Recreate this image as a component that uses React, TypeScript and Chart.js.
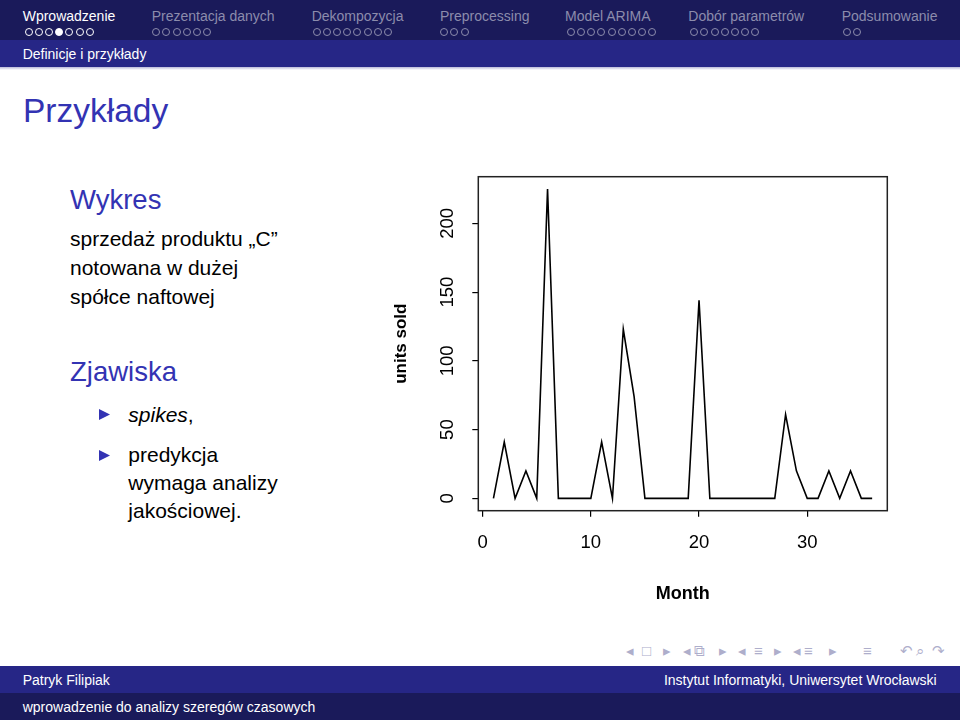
import React, { useEffect, useRef } from "react";
import { Chart, registerables } from "chart.js";

Chart.register(...registerables);

const months = [1, 2, 3, 4, 5, 6, 7, 8, 9, 10, 11, 12, 13, 14, 15, 16, 17, 18, 19, 20, 21, 22, 23, 24, 25, 26, 27, 28, 29, 30, 31, 32, 33, 34, 35, 36];
const unitsSold = [0, 41, 0, 20, 0, 225, 0, 0, 0, 0, 41, 0, 123, 74, 0, 0, 0, 0, 0, 144, 0, 0, 0, 0, 0, 0, 0, 61, 20, 0, 0, 20, 0, 20, 0, 0];
const xTickValues = [0, 10, 20, 30];
const yTickValues = [0, 50, 100, 150, 200];

const sections = [
  { name: "Wprowadzenie", dots: 7, current: 3, x: 22.7, dx: 24.5 },
  { name: "Prezentacja danych", dots: 6, current: -1, x: 151.7, dx: 152.2 },
  { name: "Dekompozycja", dots: 8, current: -1, x: 311.7, dx: 312.5 },
  { name: "Preprocessing", dots: 3, current: -1, x: 440, dx: 440.2 },
  { name: "Model ARIMA", dots: 9, current: -1, x: 565, dx: 566.8 },
  { name: "Dobór parametrów", dots: 7, current: -1, x: 688.3, dx: 690.2 },
  { name: "Podsumowanie", dots: 2, current: -1, x: 841.7, dx: 842.8 },
];

const FONT = '"Liberation Sans", Arial, Helvetica, sans-serif';
const BLUE = "#3333B3";
const DARK = "#1a1a5a";
const MID = "#262686";
const GRAY = "#8c8cac";

function ChartBox() {
  const ref = useRef<HTMLCanvasElement | null>(null);
  useEffect(() => {
    const canvas = ref.current;
    if (!canvas) return;
    const boxPlugin = {
      id: "rbox",
      afterDraw(chart: any) {
        const { ctx, chartArea } = chart;
        ctx.save();
        ctx.strokeStyle = "#222";
        ctx.lineWidth = 1.5;
        ctx.strokeRect(chartArea.left, chartArea.top, chartArea.right - chartArea.left, chartArea.bottom - chartArea.top);
        const ys = chart.scales.y;
        ctx.fillStyle = "#000";
        ctx.font = `18.5px ${FONT}`;
        ctx.textAlign = "center";
        ctx.textBaseline = "alphabetic";
        yTickValues.forEach((v) => {
          const py = ys.getPixelForValue(v);
          ctx.save();
          ctx.translate(82.5, py);
          ctx.rotate(-Math.PI / 2);
          ctx.fillText(String(v), 0, 0);
          ctx.restore();
        });
        ctx.restore();
      },
    };
    const chart = new Chart(canvas, {
      type: "line",
      data: {
        datasets: [
          {
            data: months.map((m, i) => ({ x: m, y: unitsSold[i] })),
            borderColor: "#000",
            borderWidth: 1.6,
            pointRadius: 0,
            tension: 0,
            fill: false,
          },
        ],
      },
      options: {
        animation: false,
        responsive: false,
        layout: { padding: { left: 0, top: 16.7, right: 22.7, bottom: 0 } },
        plugins: { legend: { display: false }, tooltip: { enabled: false } },
        scales: {
          x: {
            type: "linear",
            min: -0.4,
            max: 37.4,
            afterBuildTicks: (s: any) => {
              s.ticks = xTickValues.map((v) => ({ value: v }));
            },
            afterFit: (s: any) => {
              s.height = 109.3;
            },
            grid: { drawOnChartArea: false, drawTicks: true, tickLength: 6, color: "#000", lineWidth: 1.2 },
            border: { display: false },
            ticks: { font: { family: FONT, size: 18.5 }, color: "#000", padding: 15.5, maxRotation: 0, autoSkip: false },
            title: {
              display: true,
              text: "Month",
              color: "#000",
              font: { family: FONT, size: 18, weight: "bold" },
              padding: { top: 0, bottom: 15.5 },
            },
          },
          y: {
            type: "linear",
            min: -9,
            max: 234,
            afterBuildTicks: (s: any) => {
              s.ticks = yTickValues.map((v) => ({ value: v }));
            },
            afterFit: (s: any) => {
              s.width = 108.3;
            },
            grid: { drawOnChartArea: false, drawTicks: true, tickLength: 6, color: "#000", lineWidth: 1.2 },
            border: { display: false },
            ticks: { display: false },
            title: {
              display: true,
              text: "units sold",
              color: "#000",
              font: { family: FONT, size: 17, weight: "bold" },
              padding: { top: 21, bottom: 0 },
            },
          },
        },
      },
      plugins: [boxPlugin],
    } as any);
    return () => chart.destroy();
  }, []);
  return (
    <div style={{ position: "absolute", left: 370, top: 160, width: 540, height: 460 }}>
      <canvas ref={ref} width={540} height={460} style={{ width: 540, height: 460 }} />
    </div>
  );
}

const abs = (left: number, top: number, size: number, extra: any = {}) => ({
  position: "absolute" as const,
  left,
  top,
  fontSize: size,
  lineHeight: `${size}px`,
  whiteSpace: "nowrap" as const,
  ...extra,
});

function Triangle({ x, y }: { x: number; y: number }) {
  return (
    <svg style={{ position: "absolute", left: x, top: y - 5.5 }} width={11} height={11}>
      <polygon points="0,0 11,5.5 0,11" fill={BLUE} />
    </svg>
  );
}

const navItems = [
  { t: "◂", x: 626 }, { t: "□", x: 642 }, { t: "▸", x: 663 },
  { t: "◂", x: 683 }, { t: "⧉", x: 694 }, { t: "▸", x: 719 },
  { t: "◂", x: 738 }, { t: "≡", x: 754 }, { t: "▸", x: 774 },
  { t: "◂", x: 793 }, { t: "≡", x: 804 }, { t: "▸", x: 829 },
  { t: "≡", x: 863 }, { t: "↶", x: 900 }, { t: "⌕", x: 916 }, { t: "↷", x: 932 },
];

export default function App() {
  return (
    <div
      style={{
        position: "absolute",
        left: 0,
        top: 0,
        width: 960,
        height: 720,
        background: "#fff",
        overflow: "hidden",
        fontFamily: FONT,
        color: "#000",
      }}
    >
      {/* header */}
      <div style={{ position: "absolute", left: 0, top: 0, width: 960, height: 40, background: DARK }} />
      <div style={{ position: "absolute", left: 0, top: 40, width: 960, height: 27, background: MID }} />
      <div style={{ position: "absolute", left: 0, top: 67, width: 960, height: 3, background: "linear-gradient(#b8b8d8, #ffffff)" }} />
      {sections.map((s, si) => (
        <React.Fragment key={si}>
          <div style={abs(s.x, 8.9, 14, { color: si === 0 ? "#fff" : GRAY })}>{s.name}</div>
          {Array.from({ length: s.dots }).map((_, di) => (
            <div
              key={di}
              style={{
                position: "absolute",
                left: s.dx + di * 10.2,
                top: 27.5,
                width: 8,
                height: 8,
                boxSizing: "border-box",
                borderRadius: "50%",
                border: `1.2px solid ${si === 0 ? "#fff" : GRAY}`,
                background: di === s.current ? "#fff" : "transparent",
              }}
            />
          ))}
        </React.Fragment>
      ))}
      <div style={abs(22.7, 47.4, 14, { color: "#fff" })}>Definicje i przykłady</div>

      {/* title */}
      <div style={abs(23, 94.3, 33.5, { color: BLUE })}>Przykłady</div>

      {/* left column */}
      <div style={abs(70, 186, 27.5, { color: BLUE })}>Wykres</div>
      <div style={abs(70, 228.2, 21)}>sprzedaż produktu „C”</div>
      <div style={abs(70, 257.2, 21)}>notowana w dużej</div>
      <div style={abs(70, 285.5, 21)}>spółce naftowej</div>
      <div style={abs(70, 358.4, 27.5, { color: BLUE })}>Zjawiska</div>
      <Triangle x={99.3} y={414.3} />
      <div style={abs(128.3, 403.9, 21)}>
        <i>spikes</i>,
      </div>
      <Triangle x={99.3} y={455} />
      <div style={abs(128.3, 443.9, 21)}>predykcja</div>
      <div style={abs(128.3, 472.2, 21)}>wymaga analizy</div>
      <div style={abs(128.3, 499.9, 21)}>jakościowej.</div>

      <ChartBox />

      {/* nav symbols */}
      {navItems.map((n, i) => (
        <div key={i} style={abs(n.x, 643, 15, { color: "#aeaecb" })}>
          {n.t}
        </div>
      ))}

      {/* footer */}
      <div style={{ position: "absolute", left: 0, top: 666, width: 960, height: 27, background: MID }} />
      <div style={{ position: "absolute", left: 0, top: 693, width: 960, height: 27, background: DARK }} />
      <div style={abs(22.7, 673, 14, { color: "#fff" })}>Patryk Filipiak</div>
      <div style={{ ...abs(0, 673, 14, { color: "#fff" }), left: "auto", right: 23.3 }}>
        Instytut Informatyki, Uniwersytet Wrocławski
      </div>
      <div style={abs(22.7, 699.8, 14, { color: "#fff" })}>wprowadzenie do analizy szeregów czasowych</div>
    </div>
  );
}
